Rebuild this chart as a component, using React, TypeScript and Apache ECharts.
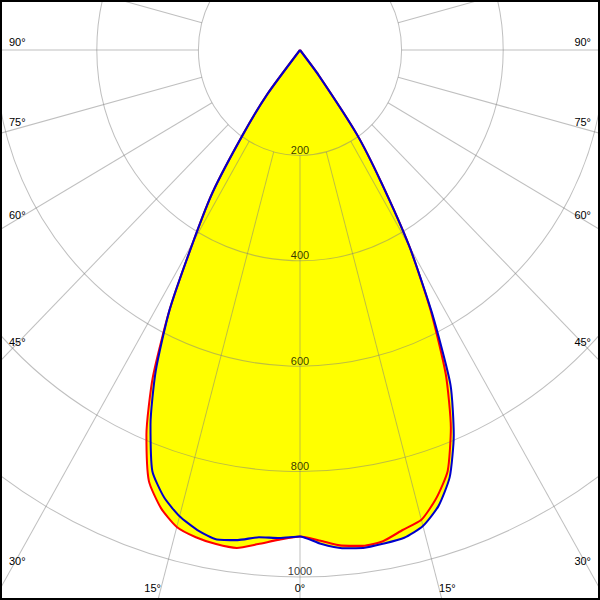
import React, { useEffect, useRef } from "react";
import * as echarts from "echarts";

// Angles (degrees from nadir; negative = left side)
const angles = [
  -90, -80, -70, -60, -50, -45, -42.5, -40, -37.5, -35, -32.5, -30, -27.5, -25, -22.5, -20,
  -17.5, -15, -12.5, -10, -7.5, -5, -2.5, 0, 2.5, 5, 7.5, 10, 12.5, 15, 17.5, 20, 22.5, 25,
  27.5, 30, 32.5, 35, 37.5, 40, 42.5, 45, 50, 60, 70, 80, 90,
];

// Luminous intensity, red plane
const redValues = [
  0, 0, 0, 0, 0, 0, 0, 0, 105, 196, 320, 421, 556, 686, 790, 870,
  911, 937, 947, 952, 953, 941, 930, 923, 932, 944, 949, 946, 933, 923, 892, 850, 776, 679,
  557, 431, 297, 194, 60, 0, 0, 0, 0, 0, 0, 0, 0,
];

// Luminous intensity, blue plane
const blueValues = [
  0, 0, 0, 0, 0, 0, 0, 0, 105, 196, 320, 421, 556, 672, 769, 850,
  890, 916, 933, 943, 938, 928, 927, 923, 938, 949, 953, 951, 948, 935, 907, 862, 791, 701,
  563, 431, 297, 194, 60, 0, 0, 0, 0, 0, 0, 0, 0,
];

const radiusTicks = [200, 400, 600, 800, 1000];
const gridAngles = [
  -165, -150, -135, -120, -105, -90, -75, -60, -45, -30, -15, 0, 15, 30, 45, 60, 75, 90, 105, 120,
  135, 150, 165, 180,
];
const sideAngleLabels = [90, 75, 60, 45, 30];
const bottomAngleLabels = [-15, 0, 15];

const W = 600;
const H = 600;
const CX = 300;
const CY = 50; // final (stretched) pixel position of the pole
const PX_PER_UNIT_X = 0.508;
const PX_PER_UNIT_Y = 0.527;
const STRETCH = PX_PER_UNIT_Y / PX_PER_UNIT_X; // reference is slightly taller than wide
const R_MAX = 1400;
const GRID_START = 200;
const FONT = "'Liberation Sans', Arial, sans-serif";
const GRID_COLOR = "rgba(128,128,128,0.5)";

export default function App() {
  const ref = useRef<HTMLDivElement>(null);

  useEffect(() => {
    document.body.style.margin = "0";
    const chart = echarts.init(ref.current!, null, { renderer: "svg" });

    const gridSeries = gridAngles.map((a) => ({
      type: "line",
      coordinateSystem: "polar",
      data: [
        [GRID_START, a],
        [R_MAX, a],
      ],
      showSymbol: false,
      silent: true,
      lineStyle: { color: GRID_COLOR, width: 1 },
      z: 3,
    }));

    const graphics: any[] = [];
    const toRad = (d: number) => (d * Math.PI) / 180;
    const textStyle = (text: string, align: string) => ({
      text,
      fill: "#000",
      font: `11px ${FONT}`,
      textAlign: align,
      textVerticalAlign: "middle",
    });
    sideAngleLabels.forEach((a) => {
      const yFinal = CY + (a === 90 ? 0 : CX / Math.tan(toRad(a))) - 8.5;
      const y = yFinal / STRETCH;
      graphics.push({ type: "text", x: 9, y, z: 20, style: textStyle(`${a}°`, "left") });
      graphics.push({ type: "text", x: W - 9, y, z: 20, style: textStyle(`${a}°`, "right") });
    });
    bottomAngleLabels.forEach((a) => {
      const x = CX + (H - CY) * Math.tan(toRad(a));
      graphics.push({ type: "text", x, y: 588 / STRETCH, z: 20, style: textStyle(`${Math.abs(a)}°`, "center") });
    });

    const option: any = {
      animation: false,
      backgroundColor: "transparent",
      polar: { center: [CX, CY / STRETCH], radius: R_MAX * PX_PER_UNIT_X },
      angleAxis: {
        type: "value",
        min: -180,
        max: 180,
        startAngle: 90,
        clockwise: false,
        axisLine: { show: false },
        axisTick: { show: false },
        axisLabel: { show: false },
        splitLine: { show: false },
        z: 3,
      },
      radiusAxis: {
        type: "value",
        min: 0,
        max: R_MAX,
        interval: 200,
        axisLine: { show: false },
        axisTick: { show: false },
        axisLabel: { show: false },
        splitLine: { show: true, lineStyle: { color: GRID_COLOR, width: 1 } },
        z: 3,
      },
      graphic: graphics,
      series: [
        {
          type: "line",
          coordinateSystem: "polar",
          data: angles.map((a, i) => [redValues[i], a]),
          showSymbol: false,
          silent: true,
          smooth: 0.2,
          lineStyle: { opacity: 0, width: 0 },
          areaStyle: { color: "#ffff00", opacity: 1 },
          z: 1,
        },
        {
          type: "line",
          coordinateSystem: "polar",
          data: angles.map((a, i) => [blueValues[i], a]),
          showSymbol: false,
          silent: true,
          smooth: 0.2,
          lineStyle: { opacity: 0, width: 0 },
          areaStyle: { color: "#ffff00", opacity: 1 },
          z: 1,
        },
        ...gridSeries,
        {
          type: "line",
          coordinateSystem: "polar",
          data: angles.map((a, i) => [redValues[i], a]),
          showSymbol: false,
          smooth: 0.2,
          lineStyle: { color: "#ff0000", width: 2 },
          z: 5,
        },
        {
          type: "line",
          coordinateSystem: "polar",
          data: angles.map((a, i) => [blueValues[i], a]),
          showSymbol: false,
          smooth: 0.2,
          lineStyle: { color: "#0000cc", width: 2 },
          z: 6,
        },
        {
          type: "scatter",
          coordinateSystem: "polar",
          data: radiusTicks.map((r) => [r, 0]),
          symbolSize: 0,
          silent: true,
          label: {
            show: true,
            position: "top",
            distance: 0,
            formatter: (p: any) => String(p.value[0]),
            color: "#000",
            fontSize: 11,
            fontFamily: FONT,
          },
          z: 7,
        },
      ],
    };
    chart.setOption(option);
    return () => chart.dispose();
  }, []);

  const chartH = H / STRETCH;

  return (
    <div style={{ position: "relative", width: W, height: H, background: "#fff", overflow: "hidden" }}>
      <div
        style={{
          position: "absolute",
          left: 0,
          top: 0,
          width: W,
          height: chartH,
          transform: `scaleY(${STRETCH})`,
          transformOrigin: "0 0",
        }}
      >
        <div ref={ref} style={{ width: W, height: chartH }} />
      </div>
      <div
        style={{
          position: "absolute",
          left: 0,
          top: 0,
          width: W,
          height: H,
          boxSizing: "border-box",
          border: "2px solid #000",
          pointerEvents: "none",
        }}
      />
    </div>
  );
}
